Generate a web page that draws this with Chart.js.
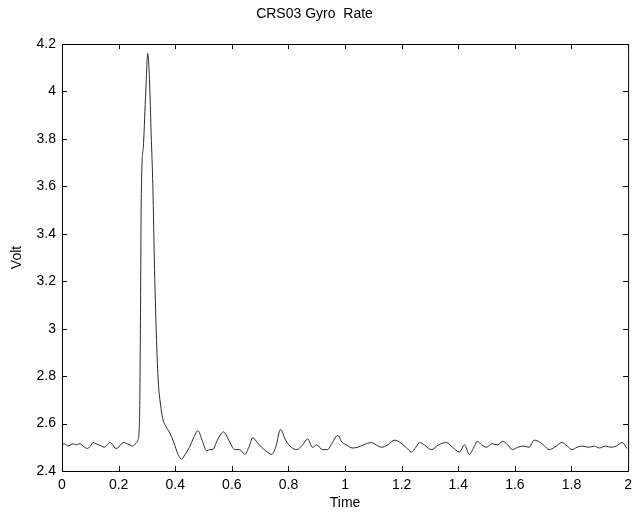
<!DOCTYPE html>
<html>
<head>
<meta charset="utf-8">
<title>CRS03 Gyro Rate</title>
<script src="https://cdn.jsdelivr.net/npm/chart.js@4/dist/chart.umd.min.js"></script>
<style>
  html, body { margin: 0; padding: 0; background: #fff; }
  #chart { display: block; }
</style>
</head>
<body>
<canvas id="chart" width="638" height="521"></canvas>
<script>
// values
const times = [
  0.00, 0.01, 0.02, 0.03, 0.04, 0.05, 0.06, 0.07, 0.08, 0.09,
  0.10, 0.11, 0.12, 0.13, 0.14, 0.15, 0.16, 0.17, 0.18, 0.19,
  0.20, 0.21, 0.22, 0.23, 0.24, 0.25, 0.26, 0.268, 0.274, 0.277,
  0.28, 0.288, 0.296, 0.303, 0.309, 0.315, 0.321, 0.327, 0.334, 0.340,
  0.346, 0.356, 0.366, 0.381, 0.395, 0.41, 0.423, 0.435, 0.45, 0.465,
  0.48, 0.495, 0.511, 0.522, 0.533, 0.545, 0.558, 0.571, 0.585, 0.60,
  0.61, 0.628, 0.646, 0.66, 0.674, 0.69, 0.705, 0.72, 0.741, 0.755,
  0.772, 0.79, 0.81, 0.829, 0.85, 0.868, 0.885, 0.90, 0.92, 0.938,
  0.955, 0.974, 0.99, 1.005, 1.026, 1.045, 1.065, 1.093, 1.11, 1.129,
  1.15, 1.175, 1.195, 1.215, 1.235, 1.25, 1.263, 1.28, 1.305, 1.33,
  1.358, 1.38, 1.404, 1.422, 1.439, 1.455, 1.467, 1.483, 1.499, 1.52,
  1.54, 1.556, 1.575, 1.591, 1.61, 1.63, 1.65, 1.668, 1.69, 1.705,
  1.721, 1.74, 1.767, 1.785, 1.802, 1.82, 1.838, 1.86, 1.88, 1.898,
  1.92, 1.94, 1.958, 1.979, 1.996
];
const volts = [
  2.51, 2.515, 2.505, 2.51, 2.515, 2.51, 2.515, 2.51, 2.50, 2.495,
  2.505, 2.52, 2.515, 2.51, 2.505, 2.50, 2.51, 2.52, 2.51, 2.495,
  2.50, 2.515, 2.52, 2.515, 2.51, 2.505, 2.515, 2.53, 2.62, 3.0,
  3.55, 3.78, 4.0, 4.16, 4.05, 3.82, 3.6, 3.25, 2.95, 2.78,
  2.70, 2.62, 2.59, 2.56, 2.52, 2.47, 2.45, 2.47, 2.50, 2.54,
  2.57, 2.53, 2.485, 2.49, 2.49, 2.52, 2.55, 2.565, 2.54, 2.505,
  2.49, 2.49, 2.47, 2.50, 2.54, 2.52, 2.50, 2.485, 2.47, 2.50,
  2.575, 2.53, 2.50, 2.49, 2.51, 2.535, 2.50, 2.51, 2.49, 2.49,
  2.52, 2.55, 2.52, 2.51, 2.497, 2.50, 2.51, 2.52, 2.51, 2.50,
  2.51, 2.53, 2.52, 2.50, 2.48, 2.50, 2.52, 2.51, 2.49, 2.51,
  2.52, 2.50, 2.48, 2.51, 2.47, 2.50, 2.525, 2.51, 2.50, 2.515,
  2.51, 2.525, 2.51, 2.49, 2.50, 2.505, 2.50, 2.53, 2.52, 2.505,
  2.49, 2.50, 2.52, 2.505, 2.49, 2.50, 2.505, 2.50, 2.505, 2.497,
  2.505, 2.50, 2.505, 2.52, 2.495
];
const xTicks = [0, 0.2, 0.4, 0.6, 0.8, 1, 1.2, 1.4, 1.6, 1.8, 2];
const yTicks = [2.4, 2.6, 2.8, 3, 3.2, 3.4, 3.6, 3.8, 4, 4.2];

const textFont = { family: "'Liberation Sans', Arial, Helvetica, sans-serif", size: 14 };

function fmt(v) {
  return String(Number(v.toFixed(1)));
}

// box round the plot with short ticks pointing inwards, as in the original
const framePlugin = {
  id: "frame",
  afterDraw(chart) {
    const { ctx, chartArea: a, scales } = chart;
    const len = 5;
    ctx.save();
    ctx.strokeStyle = "#000";
    ctx.lineWidth = 1;
    ctx.beginPath();
    ctx.rect(a.left + 0.5, a.top + 0.5, a.right - a.left, a.bottom - a.top);
    xTicks.forEach((t) => {
      const x = Math.round(scales.x.getPixelForValue(t)) + 0.5;
      ctx.moveTo(x, a.bottom);
      ctx.lineTo(x, a.bottom - len);
      ctx.moveTo(x, a.top);
      ctx.lineTo(x, a.top + len);
    });
    yTicks.forEach((t) => {
      const y = Math.round(scales.y.getPixelForValue(t)) + 0.5;
      ctx.moveTo(a.left, y);
      ctx.lineTo(a.left + len, y);
      ctx.moveTo(a.right, y);
      ctx.lineTo(a.right - len, y);
    });
    ctx.stroke();
    ctx.restore();
  }
};

new Chart(document.getElementById("chart"), {
  type: "line",
  data: {
    datasets: [{
      data: times.map((t, i) => ({ x: t, y: volts[i] })),
      borderColor: "#2a2a2a",
      borderWidth: 1,
      pointRadius: 0,
      cubicInterpolationMode: "monotone",
      fill: false
    }]
  },
  options: {
    responsive: false,
    animation: false,
    layout: { padding: { top: 0, right: 9, bottom: 0, left: 0 } },
    plugins: {
      legend: { display: false },
      tooltip: { enabled: false },
      title: {
        display: true,
        text: "CRS03 Gyro  Rate",
        color: "#000",
        font: { ...textFont, weight: "normal" },
        padding: { top: 6, bottom: 21.2 }
      }
    },
    scales: {
      x: {
        type: "linear",
        min: 0,
        max: 2,
        afterFit(scale) { scale.height = 50; },
        afterBuildTicks(scale) { scale.ticks = xTicks.map((v) => ({ value: v })); },
        grid: { display: false, drawTicks: false },
        border: { display: false },
        ticks: {
          color: "#000",
          font: textFont,
          padding: 6,
          maxRotation: 0,
          callback: fmt
        },
        title: {
          display: true,
          text: "Time",
          color: "#000",
          font: textFont,
          padding: { top: 0, bottom: 9 }
        }
      },
      y: {
        min: 2.4,
        max: 4.2,
        afterFit(scale) { scale.width = 62; },
        afterBuildTicks(scale) { scale.ticks = yTicks.map((v) => ({ value: v })); },
        grid: { display: false, drawTicks: false },
        border: { display: false },
        ticks: {
          color: "#000",
          font: textFont,
          padding: 6,
          callback: fmt
        },
        title: {
          display: true,
          text: "Volt",
          color: "#000",
          font: textFont,
          padding: { top: 9, bottom: 0 }
        }
      }
    }
  },
  plugins: [framePlugin]
});
</script>
</body>
</html>
